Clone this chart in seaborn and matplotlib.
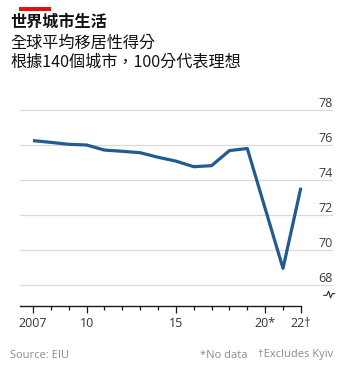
import matplotlib
matplotlib.use("Agg")
import matplotlib.pyplot as plt
import seaborn as sns
import pandas as pd

# Global average liveability score (EIU), 2020 not surveyed
years = [2007, 2008, 2009, 2010, 2011, 2012, 2013, 2014, 2015, 2016, 2017, 2018, 2019, 2021, 2022]
scores = [76.25, 76.15, 76.04, 76.0, 75.71, 75.64, 75.56, 75.3, 75.08, 74.76, 74.82, 75.68, 75.8, 68.95, 73.56]

x_ticks = [2007, 2010, 2015, 2020, 2022]
x_tick_labels = ["2007", "10", "15", "20*", "22†"]
y_ticks = [68, 70, 72, 74, 76, 78]

title = "世界城市生活"
subtitle_1 = "全球平均移居性得分"
subtitle_2 = "根據140個城市，100分代表理想"
source = "Source: EIU"
note_1 = "*No data"
note_2 = "†Excludes Kyiv"

sns.set_theme(style="white")
plt.rcParams["font.family"] = ["Open Sans", "DejaVu Sans"]

W, H = 350, 373
fig = plt.figure(figsize=(W / 100, H / 100), dpi=100)
fig.patch.set_facecolor("white")

# axes box in pixels: left 20, right 333, top 92.5, bottom 306
ax = fig.add_axes([20 / W, (H - 306) / H, (333 - 20) / W, (306 - 92.5) / H])
ax.set_facecolor("white")

df = pd.DataFrame({"year": years, "score": scores})
sns.lineplot(data=df, x="year", y="score", ax=ax, color="#225b92", linewidth=2.3,
             solid_joinstyle="round", solid_capstyle="butt", zorder=3)

x_left, x_right = 2006.27, 2023.8
ax.set_xlim(x_left, x_right)
ax.set_ylim(66.8, 79.0)
ax.set_xlabel("")
ax.set_ylabel("")

for side in ["top", "right", "left"]:
    ax.spines[side].set_visible(False)
ax.spines["bottom"].set_bounds(x_left, 2022)
ax.spines["bottom"].set_color("#1a1a1a")
ax.spines["bottom"].set_linewidth(1.0)

# horizontal gridlines
for v in y_ticks:
    ax.axhline(v, color="#d9d9d9", linewidth=0.9, zorder=1)

# x ticks: labelled majors and yearly minors
ax.set_xticks(x_ticks)
ax.set_xticklabels(x_tick_labels)
ax.set_xticks([y for y in range(2007, 2023) if y not in x_ticks], minor=True)
ax.tick_params(axis="x", which="major", direction="out", length=5, width=0.9,
               color="#1a1a1a", labelsize=9, labelcolor="#333333", pad=3, bottom=True)
ax.tick_params(axis="x", which="minor", direction="out", length=3, width=0.9,
               color="#1a1a1a", bottom=True)

# y labels on the right, sitting above their gridlines
ax.set_yticks(y_ticks)
ax.yaxis.tick_right()
ax.tick_params(axis="y", length=0, labelsize=9, labelcolor="#3a3a3a", pad=0,
               labelleft=False, labelright=True)
for lab in ax.get_yticklabels():
    lab.set_horizontalalignment("right")
    lab.set_verticalalignment("bottom")

# axis break marker below the lowest label
bx = [0.970, 0.980, 0.986, 0.992, 0.998, 1.006]
by = [0.050, 0.050, 0.070, 0.038, 0.058, 0.058]
ax.plot(bx, by, transform=ax.transAxes, color="#333333", linewidth=0.8, clip_on=False)

# red accent bar
fig.add_artist(plt.Rectangle((19 / W, 1 - 10.5 / H), 32 / W, 3 / H,
                             color="#e3120b", transform=fig.transFigure, linewidth=0))

cjk = ["Noto Sans CJK TC", "DejaVu Sans"]
fig.text(10 / W, 1 - 22 / H, title, family=cjk, fontsize=11.6, fontweight="bold",
         color="#111111", va="center", ha="left")
fig.text(10 / W, 1 - 43 / H, subtitle_1, family=cjk, fontsize=11.6,
         color="#111111", va="center", ha="left")
fig.text(10 / W, 1 - 62 / H, subtitle_2, family=cjk, fontsize=11.6,
         color="#111111", va="center", ha="left")

fig.text(10 / W, 1 - 355 / H, source, fontsize=8, color="#8a8a8a", va="center", ha="left")
fig.text(247 / W, 1 - 355 / H, note_1, fontsize=8, color="#8a8a8a", va="center", ha="right")
fig.text(333 / W, 1 - 355 / H, note_2, fontsize=8, color="#8a8a8a", va="center", ha="right")

fig.savefig("out.png", dpi=100)
